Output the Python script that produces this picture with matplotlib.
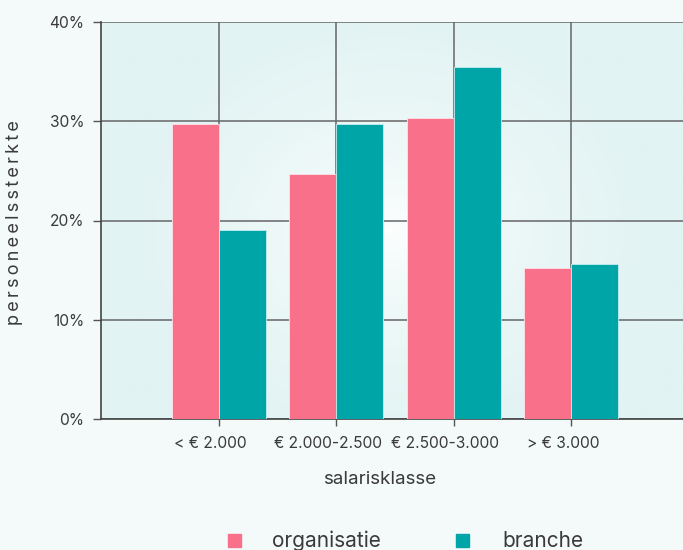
import numpy as np
import matplotlib
matplotlib.use("Agg")
import matplotlib.pyplot as plt
from matplotlib.patches import Rectangle

# salary classes and share of staff (%)
categories = ["< € 2.000", "€ 2.000-2.500", "€ 2.500-3.000", "> € 3.000"]
organisatie = [29.7, 24.7, 30.3, 15.2]
branche = [19.0, 29.7, 35.5, 15.6]
yticks = [0, 10, 20, 30, 40]

pink = "#F87089"
teal = "#00A5A8"
textcol = "#3a3a3a"

plt.rcParams["font.family"] = ["Inter", "DejaVu Sans"]

fig = plt.figure(figsize=(6.83, 5.5), dpi=100)
fig.patch.set_facecolor("#F4F9FA")

ax = fig.add_axes([101 / 683, 131 / 550, 587.5 / 683, 397 / 550])
ax.set_xlim(-1, 4)
ax.set_ylim(0, 40)

# soft radial gradient behind the plot
gx, gy = np.meshgrid(np.linspace(-1, 1, 300), np.linspace(-1, 1, 200))
r = np.sqrt(((gx + 0.02) / 0.9) ** 2 + ((gy + 0.05) / 1.1) ** 2)
r = np.clip(r, 0, 1)
c_in = np.array([1.0, 1.0, 1.0])
c_out = np.array([0xE2, 0xF3, 0xF3]) / 255
img = c_in[None, None, :] * (1 - r[..., None] ** 0.6) + c_out[None, None, :] * r[..., None] ** 0.6
ax.imshow(img, extent=(-1, 4, 0, 40), aspect="auto", zorder=0, origin="lower")

x = np.arange(len(categories))
w = 0.4
ax.bar(x - w / 2, organisatie, w, color=pink, edgecolor="#fde3e8", linewidth=0.6,
       zorder=3, label="organisatie")
ax.bar(x + w / 2, branche, w, color=teal, edgecolor="#c8ecec", linewidth=0.6,
       zorder=3, label="branche")

# tick marks on the categories, labels nudged a little to the left
ax.set_xticks(x)
ax.set_xticklabels([])
ax.set_xticks(x - 0.07, minor=True)
ax.set_xticklabels(categories, minor=True, fontsize=11.2, color=textcol)
ax.tick_params(axis="x", which="minor", length=0, pad=12)

ax.set_yticks(yticks)
ax.set_yticklabels([f"{v}%" for v in yticks], fontsize=11.2, color=textcol)
ax.tick_params(axis="both", which="major", direction="out", length=6, width=1,
               color="#555555")
ax.tick_params(axis="x", which="major", length=5)
ax.tick_params(axis="y", pad=6)

ax.grid(True, which="major", color="#666666", linewidth=1.1, zorder=1)
ax.set_axisbelow(True)

for side in ["top", "right"]:
    ax.spines[side].set_visible(False)
for side in ["left", "bottom"]:
    ax.spines[side].set_color("#444444")
    ax.spines[side].set_linewidth(1.2)

fig.text(15 / 683, 1 - 223 / 550, "\u2009".join("personeelssterkte"),
         rotation=90, ha="center", va="center", fontsize=13, color=textcol)
fig.text(380 / 683, 1 - 480 / 550, "salarisklasse", ha="center", va="center",
         fontsize=13.5, color=textcol)

# legend along the bottom edge
for sx, tx, col, lab in [(235, 272, pink, "organisatie"), (463, 502, teal, "branche")]:
    fig.patches.append(Rectangle(((sx - 7) / 683, 1 - 547 / 550), 13 / 683, 13 / 550,
                                 transform=fig.transFigure, color=col, figure=fig))
    fig.text(tx / 683, 1 - 541 / 550, lab, ha="left", va="center", fontsize=15,
             color=textcol)

fig.savefig("out.png", dpi=100, facecolor=fig.get_facecolor())
